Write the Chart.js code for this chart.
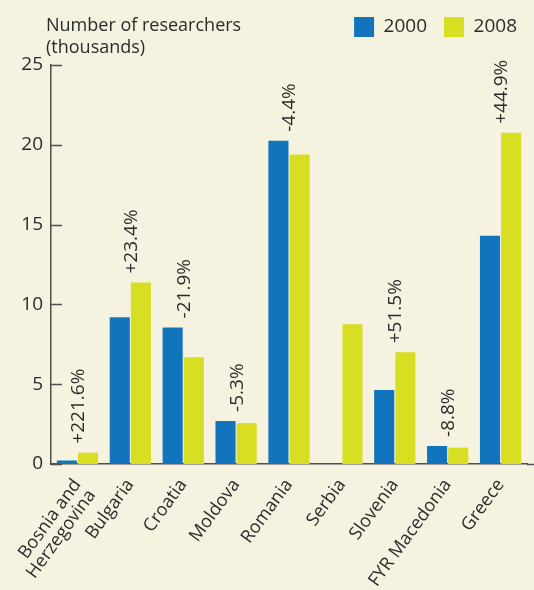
<!DOCTYPE html>
<html>
<head>
<meta charset="utf-8">
<script src="https://cdn.jsdelivr.net/npm/chart.js@4"></script>
<style>
    html, body { margin: 0; padding: 0; background: #f5f2e0; }
    #wrap { width: 534px; height: 590px; }
</style>
</head>
<body>
<div id="wrap"><canvas id="researchChart"></canvas></div>
<script>
const countries = [["Bosnia and", "Herzegovina"], "Bulgaria", "Croatia", "Moldova", "Romania", "Serbia", "Slovenia", "FYR Macedonia", "Greece"];
const researchers2000 = [0.22, 9.2, 8.56, 2.7, 20.25, null, 4.63, 1.13, 14.3];
const researchers2008 = [0.71, 11.37, 6.69, 2.56, 19.4, 8.75, 7.0, 1.03, 20.75];
const changeLabels = ["+221.6%", "+23.4%", "-21.9%", "-5.3%", "-4.4%", "", "+51.5%", "-8.8%", "+44.9%"];
const titleLines = ["Number of researchers", "(thousands)"];

const FONT = "'Open Sans', sans-serif";
const TEXT = "#2b2b2b";
const AXIS = "#4f4f4f";

// axis title, inward tick marks and % change labels
const extras = {
    id: "extras",
    afterDraw(chart) {
        const { ctx, chartArea } = chart;
        const x = chart.scales.x;
        const y = chart.scales.y;
        ctx.save();
        ctx.fillStyle = TEXT;
        ctx.font = "18px " + FONT;
        ctx.textBaseline = "alphabetic";
        ctx.textAlign = "left";
        ctx.fillText(titleLines[0], 46, 31);
        ctx.fillText(titleLines[1], 46, 53);

        ctx.strokeStyle = AXIS;
        ctx.lineWidth = 1.5;
        y.ticks.forEach((t) => {
            const py = Math.round(y.getPixelForValue(t.value)) + 0.5;
            ctx.beginPath();
            ctx.moveTo(chartArea.left, py);
            ctx.lineTo(chartArea.left + 11, py);
            ctx.stroke();
        });

        // base line runs on to the edge
        const by = Math.round(y.getPixelForValue(0)) + 0.5;
        ctx.beginPath();
        ctx.moveTo(chartArea.right, by);
        ctx.lineTo(chart.width, by);
        ctx.stroke();

        ctx.font = "19px " + FONT;
        ctx.textAlign = "left";
        ctx.textBaseline = "middle";
        changeLabels.forEach((lbl, i) => {
            if (!lbl) return;
            const top = Math.max(researchers2000[i] || 0, researchers2008[i] || 0);
            ctx.save();
            ctx.translate(x.getPixelForValue(i) + 1, y.getPixelForValue(top) - 9);
            ctx.rotate(-Math.PI / 2);
            ctx.fillText(lbl, 0, 0);
            ctx.restore();
        });
        ctx.restore();
    },
};

new Chart(document.getElementById("researchChart"), {
    type: "bar",
    data: {
        labels: countries,
        datasets: [
            {
                label: "2000",
                data: researchers2000,
                backgroundColor: "#1174bd",
            },
            {
                label: "2008",
                data: researchers2008,
                backgroundColor: "#d8de22",
            },
        ],
    },
    options: {
        responsive: true,
        maintainAspectRatio: false,
        animation: false,
        categoryPercentage: 0.8,
        barPercentage: 0.95,
        layout: { padding: 0 },
        plugins: {
            legend: {
                position: "top",
                align: "end",
                labels: {
                    boxWidth: 20,
                    boxHeight: 20,
                    padding: 17,
                    color: TEXT,
                    font: { family: FONT, size: 19 },
                },
            },
            tooltip: { enabled: false },
        },
        scales: {
            x: {
                grid: { display: false },
                border: { display: true, color: AXIS, width: 1.5 },
                ticks: {
                    color: TEXT,
                    font: { family: FONT, size: 18, lineHeight: 1.0 },
                    minRotation: 54,
                    maxRotation: 54,
                    autoSkip: false,
                    padding: 4,
                },
                afterFit(scale) {
                    scale.height = 126;
                },
            },
            // spacer between legend and plot
            xTop: {
                type: "category",
                position: "top",
                grid: { display: false, drawTicks: false },
                border: { display: false },
                ticks: { display: false },
                afterFit(scale) {
                    scale.height = 18;
                },
            },
            y: {
                min: 0,
                max: 25,
                grid: { display: false, drawTicks: false },
                border: { display: true, color: AXIS, width: 1.5 },
                ticks: {
                    stepSize: 5,
                    color: TEXT,
                    font: { family: FONT, size: 19 },
                    padding: 8,
                },
                afterFit(scale) {
                    scale.width = 51;
                },
            },
            // spacer on the right
            yRight: {
                position: "right",
                grid: { display: false, drawTicks: false },
                border: { display: false },
                ticks: { display: false },
                afterFit(scale) {
                    scale.width = 7;
                },
            },
        },
    },
    plugins: [extras],
});
</script>
</body>
</html>
